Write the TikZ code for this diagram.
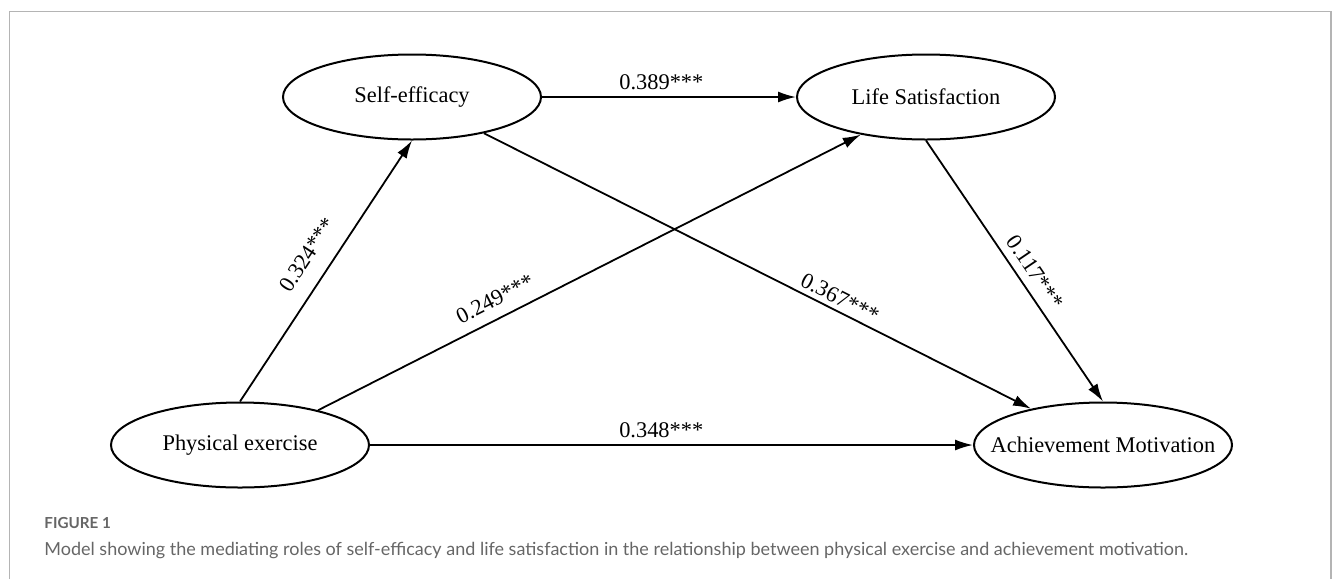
\documentclass[tikz,border=0pt]{standalone}
\usepackage{fontspec}
\setmainfont{Liberation Serif}
\newfontfamily\capfont{Lato}
\usetikzlibrary{shapes.geometric,arrows.meta}

\definecolor{capgray}{HTML}{666666}
\definecolor{framegray}{HTML}{B4B4B4}

\begin{document}
\begin{tikzpicture}[x=0.5pt,y=-0.5pt,
	latent/.style={shape=ellipse,draw=black,line width=1pt,minimum width=129pt,minimum height=42.5pt,inner sep=0pt,font=\fontsize{11.2}{13}\selectfont},
	link/.style={-{Latex[length=9pt,width=5.5pt]},line width=0.9pt},
	coef/.style={font=\fontsize{11.2}{13}\selectfont}]
	\useasboundingbox (0,0) rectangle (1333,579);
	\draw[framegray,line width=0.7pt] (9.5,579) -- (9.5,11.5) -- (1331,11.5) -- (1331,579);

	\node[latent] (se) at (412,97)     {\makebox[0pt]{Self-efficacy}};
	\node[latent] (ls) at (926,97)     {\makebox[0pt]{Life Satisfaction}};
	\node[latent] (pe) at (240,445)    {\makebox[0pt]{Physical exercise}};
	\node[latent] (am) at (1103,445)   {\makebox[0pt]{Achievement Motivation}};

	\path[link] (se) edge node[coef,pos=0.47,above]{0.389***} (ls);
	\path[link] (pe) edge node[coef,pos=0.483,above]{0.348***} (am);
	\path[link] (pe.north) edge node[coef,sloped,pos=0.51,above=4.8pt]{0.324***} (se.south);
	\path[link] (pe.24) edge node[coef,sloped,pos=0.342,above=2.1pt]{0.249***} (ls.210);
	\path[link] (se) edge node[coef,sloped,pos=0.64,above=-1pt]{0.367***} (am);
	\path[link] (ls.south) edge node[coef,sloped,pos=0.54,above=0.6pt]{0.117***} (am.north);

	\node[anchor=base west,inner sep=0pt,text=capgray,font=\capfont\bfseries\fontsize{7.6}{9}\selectfont] (fig) at (44,528) {FIGURE 1};
	\node[anchor=base west,inner sep=0pt,text=capgray,font=\capfont\fontsize{9}{11}\selectfont] (cap) at (44,555) {Model showing the mediating roles of self-efficacy and life satisfaction in the relationship between physical exercise and achievement motivation.};

\end{tikzpicture}
\end{document}
